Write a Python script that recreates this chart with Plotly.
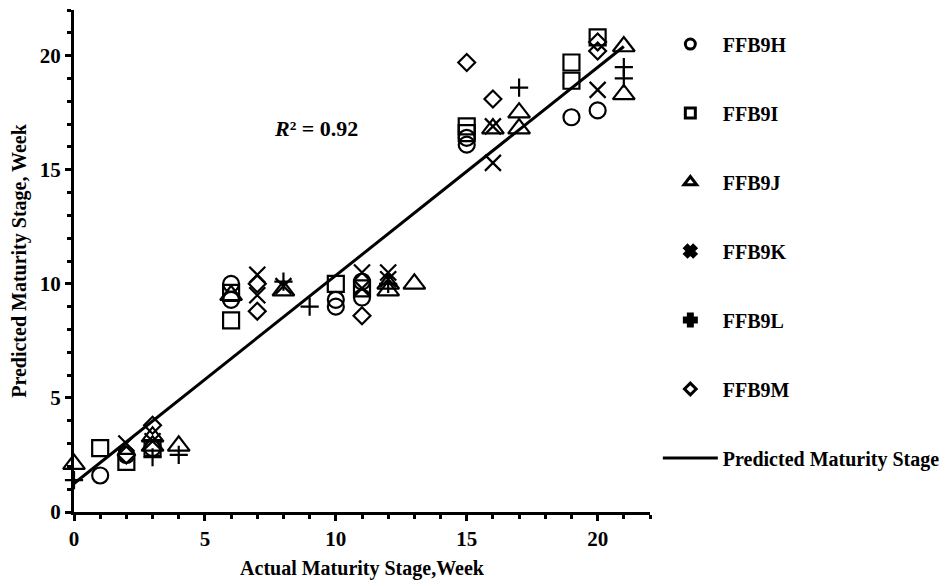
import plotly.graph_objects as go

# ---------------- data ----------------
series_names = ["FFB9H", "FFB9I", "FFB9J", "FFB9K", "FFB9L", "FFB9M"]

ffb9h_x = [1, 2, 3, 6, 6, 10, 10, 11, 11, 15, 15, 19, 20]
ffb9h_y = [1.6, 2.5, 2.8, 10.0, 9.3, 9.3, 9.0, 10.1, 9.4, 16.4, 16.1, 17.3, 17.6]

ffb9i_x = [1, 2, 3, 6, 6, 10, 11, 15, 15, 19, 19, 20]
ffb9i_y = [2.8, 2.2, 2.8, 9.6, 8.4, 10.0, 9.8, 16.9, 16.6, 19.7, 18.9, 20.8]

ffb9j_x = [0, 3, 3, 4, 6, 8, 12, 12, 13, 16, 17, 17, 21, 21]
ffb9j_y = [2.1, 3.3, 2.9, 2.9, 9.5, 9.7, 9.7, 10.0, 10.0, 16.8, 17.5, 16.8, 20.4, 18.3]

ffb9k_x = [2, 3, 7, 7, 8, 11, 11, 12, 12, 16, 16, 20]
ffb9k_y = [3.0, 3.1, 10.4, 9.5, 9.9, 10.5, 9.8, 10.5, 10.2, 16.9, 15.3, 18.5]

ffb9l_x = [0, 3, 4, 8, 9, 12, 17, 21, 21]
ffb9l_y = [1.4, 2.4, 2.5, 10.1, 9.0, 10.0, 18.6, 19.5, 19.0]

ffb9m_x = [2, 3, 7, 7, 11, 15, 16, 20, 20]
ffb9m_y = [2.5, 3.8, 10.0, 8.8, 8.6, 19.7, 18.1, 20.6, 20.2]

pred_name = "Predicted Maturity Stage"
pred_x = [0, 21]
pred_y = [1.25, 20.4]

r2_value = "0.92"
x_title = "Actual Maturity Stage,Week"
y_title = "Predicted Maturity Stage, Week"

# ---------------- styling ----------------
FONT = "Liberation Serif"
series_data = [
    (ffb9h_x, ffb9h_y), (ffb9i_x, ffb9i_y), (ffb9j_x, ffb9j_y),
    (ffb9k_x, ffb9k_y), (ffb9l_x, ffb9l_y), (ffb9m_x, ffb9m_y),
]
plot_symbols = ["circle-open", "square-open", "triangle-up-open",
                "x-thin-open", "cross-thin-open", "diamond-open"]
plot_sizes = [16, 16, 19, 16, 13, 13]
legend_symbols = ["circle-open", "square-open", "triangle-up-open",
                  "x", "cross", "diamond-open"]
legend_sizes = [10, 10, 11, 10, 10, 9]

fig = go.Figure()

for (xs, ys), sym, sz in zip(series_data, plot_symbols, plot_sizes):
    fig.add_trace(go.Scatter(
        x=xs, y=ys, mode="markers", showlegend=False, cliponaxis=False,
        marker=dict(symbol=sym, size=sz, color="black",
                    line=dict(color="black", width=2.2)),
        hoverinfo="skip",
    ))

fig.add_trace(go.Scatter(
    x=pred_x, y=pred_y, mode="lines", showlegend=False,
    line=dict(color="black", width=3), hoverinfo="skip",
))

# legend entries
for i, (name, sym, sz) in enumerate(zip(series_names, legend_symbols, legend_sizes)):
    fig.add_trace(go.Scatter(
        x=[None], y=[None], mode="markers", name=name, legendgroup=f"g{i}",
        marker=dict(symbol=sym, size=sz, color="black",
                    line=dict(color="black", width=3)),
    ))
fig.add_trace(go.Scatter(
    x=[None], y=[None], mode="lines", name=pred_name, legendgroup="g9",
    line=dict(color="black", width=3),
))

axis_common = dict(
    range=[0, 22], showline=True, linewidth=3, linecolor="black",
    ticks="outside", ticklen=6, tickwidth=3, tickcolor="black",
    tick0=0, dtick=5, showgrid=False, zeroline=False,
    minor=dict(dtick=1, ticks="outside", ticklen=4, tickwidth=3, tickcolor="black"),
    tickfont=dict(family=FONT, size=21, color="black", weight="bold"),
)

fig.update_xaxes(**axis_common,
                 title=dict(text=x_title, standoff=11,
                            font=dict(family=FONT, size=20, color="black", weight="bold")))
fig.update_yaxes(**axis_common,
                 title=dict(text=y_title, standoff=14,
                            font=dict(family=FONT, size=20, color="black", weight="bold")))

fig.add_annotation(
    x=9.25, y=16.8, xref="x", yref="y", showarrow=False,
    text=f"<b><i>R</i>\u00b2 = {r2_value}</b>",
    font=dict(family=FONT, size=22, color="black"),
)

fig.update_layout(
    width=955, height=582,
    margin=dict(l=66, r=313, t=2, b=78),
    plot_bgcolor="white", paper_bgcolor="white",
    font=dict(family=FONT, color="black"),
    showlegend=True,
    legend=dict(
        x=1.0136, y=0.971, xanchor="left", yanchor="top",
        tracegroupgap=40, itemwidth=55,
        font=dict(family=FONT, size=20, color="black", weight="bold"),
        bgcolor="rgba(0,0,0,0)",
    ),
)

fig.write_html("out.html")
